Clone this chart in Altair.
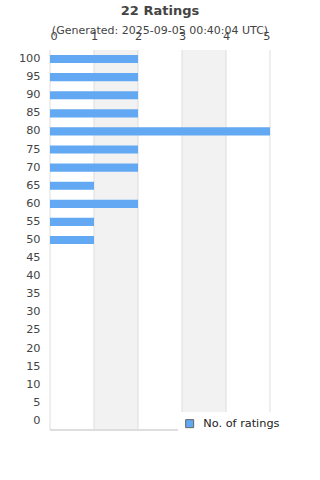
import altair as alt
import pandas as pd

scores = ["100", "95", "90", "85", "80", "75", "70", "65", "60", "55", "50",
          "45", "40", "35", "30", "25", "20", "15", "10", "5", "0"]
counts = [2, 2, 2, 2, 5, 2, 2, 1, 2, 1, 1, 0, 0, 0, 0, 0, 0, 0, 0, 0, 0]
band_start = [1, 3]
band_end = [2, 4]
grid_vals = [0, 1, 2, 3, 4, 5]
series_name = "No. of ratings"

df = pd.DataFrame({"score": scores, "count": counts, "series": series_name})
bands = pd.DataFrame({"a": band_start, "b": band_end})
grid = pd.DataFrame({"g": grid_vals})

xscale = alt.Scale(domain=[0, 5], nice=False)

band_layer = alt.Chart(bands).mark_rect(color="#f2f2f2").encode(
    x=alt.X("a:Q", scale=xscale, axis=alt.Axis(
        orient="top", title=None, grid=False, ticks=False, domain=False,
        values=grid_vals, labelFontSize=11.3, labelColor="#444", labelPadding=2,
        offset=7, labelFont="DejaVu Sans", format="d")),
    x2="b:Q",
    y=alt.value(0),
    y2=alt.value(380),
)

grid_layer = alt.Chart(grid).mark_rule(color="#dddddd", strokeWidth=1).encode(
    x=alt.X("g:Q", scale=xscale),
    y=alt.value(0),
    y2=alt.value(380),
)

bottom_line = alt.Chart(grid).mark_rule(color="#dddddd", strokeWidth=1).encode(
    x=alt.value(0), x2=alt.value(220), y=alt.value(380)
)

bars = alt.Chart(df).mark_bar().encode(
    x=alt.X("count:Q", scale=xscale),
    y=alt.Y("score:N", sort=scores, scale=alt.Scale(paddingInner=0.55, paddingOuter=0.275),
            axis=alt.Axis(title=None, ticks=False, domain=False, labelFontSize=11.3,
                          labelColor="#444", labelPadding=10, labelFont="DejaVu Sans")),
    color=alt.Color("series:N", scale=alt.Scale(domain=[series_name], range=["#62a8f2"]),
                    legend=alt.Legend(title=None, orient="none", legendX=128, legendY=362,
                                      fillColor="white", padding=6, symbolType="square",
                                      symbolSize=64, symbolStrokeColor="#666",
                                      symbolStrokeWidth=1, labelFontSize=11.3, labelOffset=8,
                                      labelColor="#222", labelFont="DejaVu Sans")),
)

chart = alt.layer(band_layer, grid_layer, bottom_line, bars).properties(
    width=220,
    height=380,
    autosize=alt.AutoSizeParams(type="none"),
    padding={"left": 50, "top": 50, "right": 50, "bottom": 50},
    title=alt.Title(
        "22 Ratings",
        subtitle="(Generated: 2025-09-05 00:40:04 UTC)",
        fontSize=13, fontWeight="bold", color="#444", font="DejaVu Sans",
        subtitleFontSize=11, subtitleColor="#444", subtitleFont="DejaVu Sans",
        anchor="middle", offset=-6, subtitlePadding=7,
    ),
).configure_view(stroke=None)

chart.save("out.html", embed_options={"renderer": "svg", "actions": False})
